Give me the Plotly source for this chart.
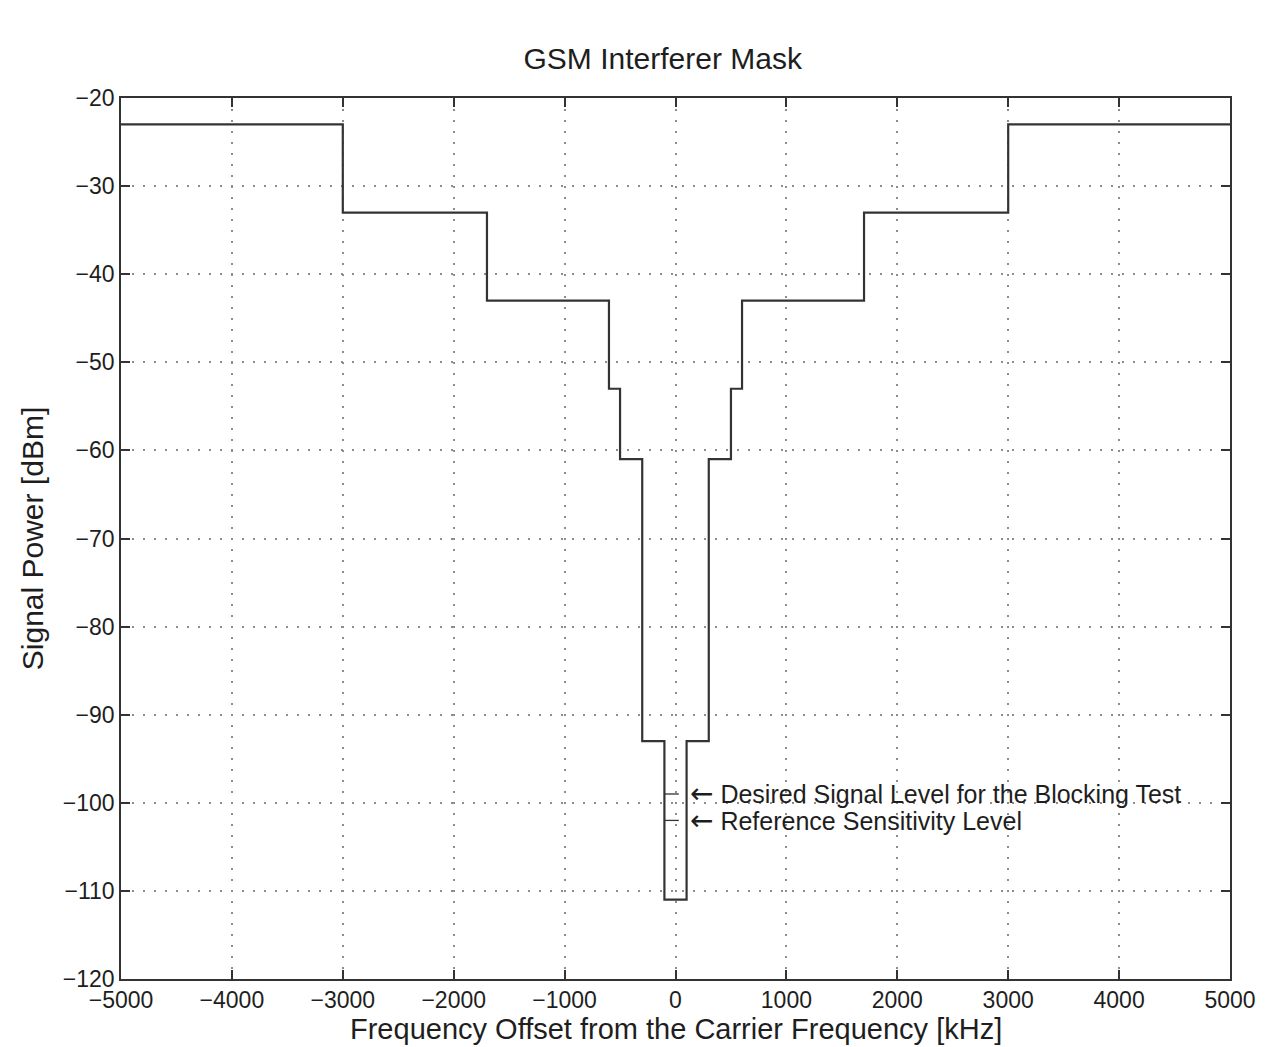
import plotly.graph_objects as go

# Step mask: band edges (kHz) and interferer level (dBm) in each band
edges = [-5000, -3000, -1700, -600, -500, -300, -100, 100, 300, 500, 600, 1700, 3000, 5000]
levels = [-23, -33, -43, -53, -61, -93, -111, -93, -61, -53, -43, -33, -23]

# Marked reference levels inside the desired channel
marker_levels = [-99, -102]
marker_x = [-100, 30]
marker_labels = ["Desired Signal Level for the Blocking Test",
                 "Reference Sensitivity Level"]

x_ticks = [-5000, -4000, -3000, -2000, -1000, 0, 1000, 2000, 3000, 4000, 5000]
y_ticks = [-120, -110, -100, -90, -80, -70, -60, -50, -40, -30, -20]

FONT = "Liberation Sans, Arial, Helvetica, sans-serif"
LINE = "#333333"
TXT = "#1e1e1e"

fig = go.Figure()
fig.add_trace(go.Scatter(
    x=edges, y=levels + [levels[-1]], mode="lines",
    line=dict(color=LINE, width=2.2, shape="hv"), showlegend=False,
    hoverinfo="skip"))

for lv in marker_levels:
    fig.add_trace(go.Scatter(
        x=marker_x, y=[lv, lv], mode="lines",
        line=dict(color=LINE, width=1.3), showlegend=False, hoverinfo="skip"))

for lv, txt in zip(marker_levels, marker_labels):
    fig.add_annotation(
        x=100, y=lv, showarrow=False, xanchor="left", yanchor="middle", xshift=1,
        text='<span style="font-family:DejaVu Sans;font-size:28px">\u2190</span> ' + txt,
        font=dict(family=FONT, size=25, color=TXT))

axis_common = dict(
    showline=True, linecolor="#333", linewidth=1.6, mirror="ticks",
    ticks="inside", ticklen=9, tickwidth=1.6, tickcolor="#333",
    showgrid=True, gridcolor="#8c8c8c", griddash="2px,9px", gridwidth=1.6,
    zeroline=False, tickfont=dict(family=FONT, size=23, color=TXT),
)

fig.update_layout(
    width=1278, height=1047,
    margin=dict(l=121, r=48, t=98, b=68),
    paper_bgcolor="white", plot_bgcolor="white",
    title=dict(text="GSM Interferer Mask", x=(121 + 1230) / 2 / 1278 - 0.01,
               xanchor="center", y=1 - 58 / 1047, yanchor="middle",
               yref="container", font=dict(family=FONT, size=30, color=TXT)),
    xaxis=dict(range=[-5000, 5000], tickvals=x_ticks, **axis_common),
    yaxis=dict(range=[-120, -20], tickvals=y_ticks,
               title=dict(text="Signal Power [dBm]",
                          font=dict(family=FONT, size=30, color=TXT), standoff=10),
               **axis_common),
)

fig.add_annotation(
    text="Frequency Offset from the Carrier Frequency [kHz]",
    xref="paper", yref="paper", x=0.5, y=0, yshift=-50,
    xanchor="center", yanchor="middle", showarrow=False,
    font=dict(family=FONT, size=29, color=TXT))

fig.write_html("out.html")
